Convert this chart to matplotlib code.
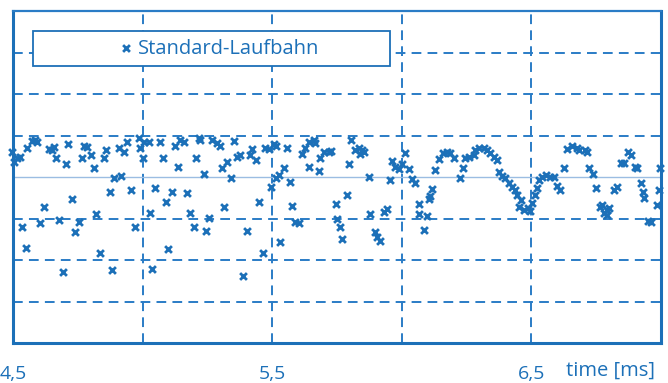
import matplotlib
matplotlib.use("Agg")
import matplotlib.pyplot as plt
from matplotlib.patches import Rectangle
from matplotlib.ticker import FixedLocator, FuncFormatter

# ---- data (time in ms, signal in arbitrary units) ----
time_ms = [
    4.496, 4.504, 4.515, 4.527, 4.535, 4.550, 4.554, 4.573, 4.585, 4.593,
    4.604, 4.620, 4.639, 4.651, 4.658, 4.666, 4.678, 4.693, 4.705, 4.712,
    4.728, 4.739, 4.755, 4.766, 4.774, 4.786, 4.801, 4.813, 4.820, 4.836,
    4.851, 4.859, 4.875, 4.882, 4.890, 4.909, 4.917, 4.929, 4.940, 4.956,
    4.971, 4.986, 4.990, 5.002, 5.006, 5.025, 5.029, 5.037, 5.048, 5.068,
    5.079, 5.091, 5.098, 5.114, 5.125, 5.137, 5.145, 5.160, 5.172, 5.183,
    5.199, 5.207, 5.218, 5.222, 5.237, 5.245, 5.257, 5.268, 5.288, 5.299,
    5.307, 5.315, 5.326, 5.342, 5.353, 5.365, 5.376, 5.388, 5.404, 5.415,
    5.423, 5.438, 5.450, 5.465, 5.473, 5.488, 5.496, 5.508, 5.515, 5.515,
    5.527, 5.531, 5.546, 5.558, 5.569, 5.577, 5.589, 5.604, 5.616, 5.627,
    5.643, 5.643, 5.662, 5.666, 5.681, 5.685, 5.701, 5.720, 5.728, 5.747,
    5.751, 5.763, 5.770, 5.790, 5.797, 5.805, 5.820, 5.836, 5.840, 5.847,
    5.855, 5.875, 5.878, 5.898, 5.905, 5.917, 5.932, 5.944, 5.956, 5.963,
    5.975, 5.990, 6.002, 6.014, 6.029, 6.041, 6.052, 6.068, 6.068, 6.087,
    6.098, 6.106, 6.110, 6.118, 6.129, 6.145, 6.160, 6.176, 6.187, 6.203,
    6.226, 6.237, 6.245, 6.261, 6.280, 6.284, 6.299, 6.319, 6.330, 6.342,
    6.357, 6.369, 6.376, 6.388, 6.400, 6.415, 6.427, 6.438, 6.446, 6.458,
    6.454, 6.473, 6.485, 6.496, 6.504, 6.512, 6.523, 6.531, 6.542, 6.558,
    6.573, 6.589, 6.600, 6.612, 6.624, 6.639, 6.658, 6.674, 6.685, 6.705,
    6.716, 6.724, 6.736, 6.751, 6.763, 6.774, 6.782, 6.790, 6.793, 6.801,
    6.820, 6.832, 6.847, 6.859, 6.871, 6.886, 6.898, 6.909, 6.921, 6.929,
    6.936, 6.948, 6.963, 6.983, 6.994, 6.998,
]
signal = [
    0.60, 0.36, 0.46, 0.48, -1.20, -1.71, 0.70, 0.87, 0.89, 0.84,
    -1.11, -0.72, 0.67, 0.65, 0.72, 0.46, -1.04, -2.29, 0.31, 0.80,
    -0.53, -1.33, -1.08, 0.46, 0.75, 0.72, 0.53, 0.22, -0.89, -1.83,
    0.46, 0.65, -0.36, -2.24, -0.02, 0.70, 0.02, 0.60, 0.84, -0.31,
    -1.20, 0.94, 0.70, 0.46, 0.84, 0.84, -0.87, -2.22, -0.27, 0.84,
    0.46, -0.60, -1.73, -0.36, 0.75, 0.24, 0.89, 0.84, -0.39, -0.87,
    -1.20, 0.46, 0.94, 0.89, 0.07, -1.30, -0.99, 0.89, 0.82, 0.75,
    0.22, -0.72, 0.36, -0.02, 0.87, 0.48, 0.53, -2.39, -1.30, 0.53,
    0.67, 0.41, -0.60, -1.83, 0.70, 0.67, -0.24, 0.80, 0.75, -0.02,
    0.05, -1.57, 0.22, 0.70, -0.12, -0.70, -1.08, -1.11, 0.55, 0.70,
    0.84, 0.24, 0.89, 0.82, 0.14, 0.46, 0.60, 0.60, 0.63, -0.65,
    -1.01, -1.20, -1.49, -0.43, 0.31, 0.89, 0.65, 0.70, 0.55, 0.65,
    0.60, 0.00, -0.89, -1.33, -1.45, -1.54, -0.84, -0.77, -0.07, 0.39,
    0.24, 0.19, 0.31, 0.58, 0.19, -0.05, -0.14, -0.65, -0.89, -1.28,
    -0.94, -0.53, -0.46, -0.29, 0.17, 0.43, 0.58, 0.60, 0.58, 0.46,
    -0.02, 0.22, 0.46, 0.48, 0.53, 0.65, 0.70, 0.70, 0.65, 0.58,
    0.48, 0.41, 0.12, 0.02, -0.02, -0.14, -0.24, -0.31, -0.43, -0.55,
    -0.72, -0.80, -0.75, -0.82, -0.63, -0.43, -0.27, -0.07, 0.00, 0.05,
    0.00, 0.00, -0.22, -0.31, 0.22, 0.67, 0.75, 0.70, 0.65, 0.65,
    0.60, 0.22, 0.07, -0.27, -0.72, -0.67, -0.87, -0.80, -0.92, -0.75,
    -0.31, -0.24, 0.34, 0.34, 0.60, 0.53, 0.24, 0.22, -0.14, -0.36,
    -0.51, -1.06, -1.08, -0.67, -0.31, 0.22,
]
series_name = "Standard-Laufbahn"
x_labeled_ticks = [4.5, 5.5, 6.5]
x_grid_ticks = [5.0, 5.5, 6.0, 6.5]
y_grid_ticks = [-3, -2, -1, 1, 2, 3]
x_label = "time [ms]"

BLUE = "#1c70b8"
GRID = "#2a7cc6"
LIGHT = "#9bbde2"

plt.rcParams["font.family"] = ["Open Sans", "DejaVu Sans"]

fig = plt.figure(figsize=(6.68, 3.83), dpi=100)
ax = fig.add_axes([13 / 668, 40 / 383, 648 / 668, 332 / 383])
ax.set_xlim(4.5, 7.0)
ax.set_ylim(-4, 4)

# grid
for gx in x_grid_ticks:
    ax.axvline(gx, color=GRID, lw=1.4, ls=(0, (5, 3.2)), zorder=1)
for gy in y_grid_ticks:
    ax.axhline(gy, color=GRID, lw=1.4, ls=(0, (5, 3.2)), zorder=1)
ax.axhline(0, color=LIGHT, lw=1.0, zorder=1)

sc = ax.scatter(time_ms, signal, marker="x", s=24, linewidths=2.0,
                color=BLUE, zorder=3, label=series_name, clip_on=False)

# ticks
ax.xaxis.set_major_locator(FixedLocator(x_labeled_ticks))
ax.xaxis.set_major_formatter(FuncFormatter(lambda v, p: f"{v:.1f}".replace(".", ",")))
ax.set_yticks([])
ax.tick_params(axis="x", length=0, pad=16, labelsize=14, labelcolor=BLUE)

for side in ["left", "bottom", "right"]:
    ax.spines[side].set_color(BLUE)
    ax.spines[side].set_linewidth(2.2)
ax.spines["top"].set_color(GRID)
ax.spines["top"].set_linewidth(1.6)

ax.text((655 - 13) / 648, -0.082, x_label, transform=ax.transAxes, ha="right", va="center",
        color=BLUE, fontsize=14.5)

# legend box
x0, x1 = (33 - 13) / 648, (390 - 13) / 648
y1, y0 = 1 - (31 - 11) / 332, 1 - (66 - 11) / 332
ax.add_patch(Rectangle((x0, y0), x1 - x0, y1 - y0, transform=ax.transAxes,
                       facecolor="white", edgecolor=BLUE, lw=1.3, zorder=4))
leg = ax.legend(loc="center", bbox_to_anchor=((220 - 13) / 648, (y0 + y1) / 2),
                frameon=False, fontsize=14.5, handlelength=0.6, handletextpad=0.3,
                borderaxespad=0)
for t in leg.get_texts():
    t.set_color(BLUE)
leg.set_zorder(5)

fig.savefig("out.png", dpi=100)
